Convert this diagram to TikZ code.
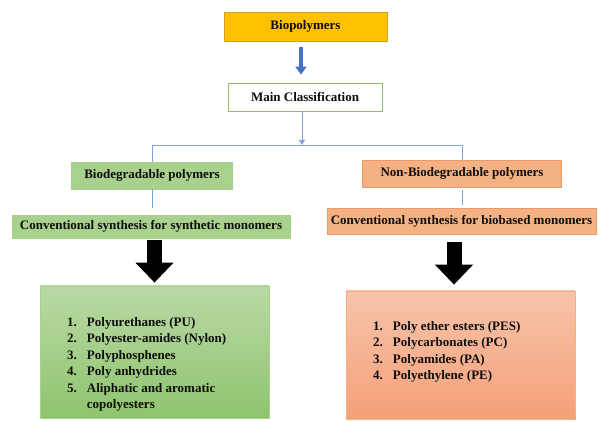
\documentclass[tikz,border=0pt]{standalone}
\usepackage{fontspec}
\setmainfont{Liberation Serif}
\usetikzlibrary{arrows.meta}
\definecolor{gold}{HTML}{FFC000}
\definecolor{goldline}{HTML}{C9A227}
\definecolor{grn}{HTML}{A9D18E}
\definecolor{grnline}{HTML}{8CC06A}
\definecolor{grntop}{HTML}{B9D9A5}
\definecolor{grnbot}{HTML}{8FC46E}
\definecolor{sal}{HTML}{F4B183}
\definecolor{salline}{HTML}{EE9A68}
\definecolor{saltop}{HTML}{F8C4AA}
\definecolor{salbot}{HTML}{F4A079}
\definecolor{blu}{HTML}{4472C4}
\definecolor{lblu}{HTML}{7FA2D9}
\definecolor{txt}{HTML}{0D0D0D}
\begin{document}
\begin{tikzpicture}[x=1pt,y=-1pt,
  box/.style={draw, line width=0.8pt, inner sep=0pt, text=txt,
    font=\bfseries\fontsize{13}{16}\selectfont},
  listtext/.style={inner sep=0pt, text=txt, anchor=west,
    font=\bfseries\fontsize{13}{16.5}\selectfont},
  conn/.style={draw=lblu, line width=0.8pt},
  blockarrow/.style={draw=black, line width=15pt, -{Triangle[width=37pt,length=20pt]}}
]
\useasboundingbox (0,0) rectangle (598,422);

\node[box, fill=gold, draw=goldline, minimum width=163pt, minimum height=29pt] (bio) at (305.5,26.5) {Biopolymers};
\node[box, fill=white, draw=grnline, minimum width=154pt, minimum height=28pt] (main) at (305,97) {Main Classification};
\node[box, fill=grn, draw=grn, minimum width=161pt, minimum height=27pt] (bdeg) at (152,175.5) {Biodegradable polymers};
\node[box, fill=sal, draw=salline, minimum width=199pt, minimum height=27pt] (nbdeg) at (462,173.5) {Non-Biodegradable polymers};
\node[box, fill=grn, draw=grn, minimum width=278pt, minimum height=23pt] (convL) at (151,226.5) {Conventional synthesis for synthetic monomers};
\node[box, fill=sal, draw=salline, minimum width=269pt, minimum height=26pt] (convR) at (461.5,221) {Conventional synthesis for biobased monomers};
\node[box, draw=grn, top color=grntop, bottom color=grnbot, minimum width=229pt, minimum height=132pt] (listL) at (154.5,352) {};
\node[box, draw=sal, top color=saltop, bottom color=salbot, minimum width=229pt, minimum height=128pt] (listR) at (460.5,355) {};

\node[listtext] (itemsL) at (67,364) {\begin{tabular}{@{}l@{\hspace{10pt}}l@{}}
1. & Polyurethanes (PU)\\
2. & Polyester-amides (Nylon)\\
3. & Polyphosphenes\\
4. & Poly anhydrides\\
5. & Aliphatic and aromatic\\
   & copolyesters
\end{tabular}};
\node[listtext] (itemsR) at (373,351.5) {\begin{tabular}{@{}l@{\hspace{10pt}}l@{}}
1. & Poly ether esters (PES)\\
2. & Polycarbonates (PC)\\
3. & Polyamides (PA)\\
4. & Polyethylene (PE)
\end{tabular}};

% top blue arrow
\draw[blu, line width=4pt, -{Triangle[width=11pt,length=8pt]}, shorten <=6pt, shorten >=8pt]
  ([xshift=-4.5pt]bio.south) -- ([xshift=-4pt]main.north);

% split
\coordinate (split) at (302,145);
\draw[conn, -{Triangle[width=6pt,length=5pt]}] ([xshift=-3pt]main.south) -- (split);
\draw[conn] (bdeg.north) -- (bdeg.north |- split) -- (nbdeg.north |- split) -- (nbdeg.north);

% lines to conventional boxes
\draw[conn, shorten >=7pt] (bdeg.south) -- (bdeg.south |- convL.north);
\draw[conn, shorten <=3pt, shorten >=3pt] (nbdeg.south) -- (nbdeg.south |- convR.north);

% black block arrows
\draw[blockarrow, shorten <=2pt, shorten >=3pt] (listL.north |- convL.south) -- (listL.north);
\draw[blockarrow, shorten <=8pt, shorten >=6pt] ([xshift=-6.5pt]listR.north |- convR.south) -- ([xshift=-6.5pt]listR.north);
\end{tikzpicture}
\end{document}
